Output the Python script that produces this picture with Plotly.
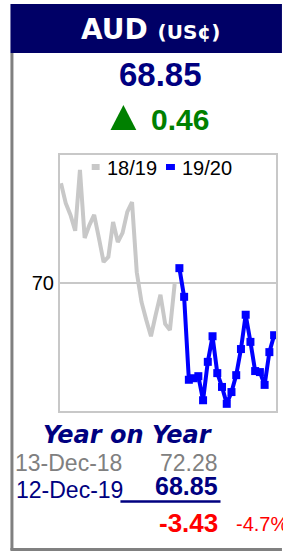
import plotly.graph_objects as go

# ---- data ----
prev_label = "18/19"
curr_label = "19/20"
prev_x = list(range(0, 25))
prev_vals = [71.95, 71.56, 71.33, 71.02, 72.21, 70.88, 71.13, 71.33, 70.88, 70.41,
             70.51, 71.19, 70.80, 70.98, 71.39, 71.58, 70.21, 69.63, 69.28, 68.96,
             69.38, 69.77, 69.20, 69.08, 69.98]
curr_x = list(range(25, 46))
curr_vals = [70.29, 69.73, 68.11, 68.14, 68.18, 67.71, 68.46, 68.96, 68.24, 67.97,
             67.64, 67.87, 68.20, 68.71, 69.38, 68.85, 68.28, 68.26, 68.01, 68.65, 68.98]
y_ticks = [70]

title_main = "AUD"
title_unit = "(US¢)"
latest = "68.85"
change = "0.46"
yoy_title = "Year on Year"
prev_date, prev_value = "13-Dec-18", "72.28"
curr_date, curr_value = "12-Dec-19", "68.85"
diff_value, diff_pct = "-3.43", "-4.7%"

# ---- layout helpers (pixel -> paper) ----
W, H = 283, 551
L, R, T, B = 60, 278, 155, 411


def px(x):
    return (x - L) / (R - L)


def py(y):
    return (B - y) / (B - T)


NAVY = "#000080"
fig = go.Figure()
fig.add_trace(go.Scatter(x=prev_x, y=prev_vals, mode="lines", name=prev_label,
                         line=dict(color="#c8c8c8", width=4), showlegend=False))
fig.add_trace(go.Scatter(x=curr_x, y=curr_vals, mode="lines+markers", name=curr_label,
                         line=dict(color="#0000ff", width=4),
                         marker=dict(symbol="square", size=8, color="#0000ff"),
                         showlegend=False))

shapes = [
    dict(type="rect", xref="paper", yref="paper", x0=px(10), x1=px(284), y0=py(53), y1=py(4),
         fillcolor="#000066", line=dict(width=0), layer="below"),
    dict(type="line", xref="paper", yref="paper", x0=px(11.5), x1=px(11.5), y0=py(53), y1=py(550),
         line=dict(color="#808080", width=3)),
    dict(type="line", xref="paper", yref="paper", x0=px(10), x1=px(284), y0=py(549.5), y1=py(549.5),
         line=dict(color="#808080", width=3)),
    dict(type="line", xref="paper", yref="paper", x0=px(92), x1=px(100), y0=py(167), y1=py(167),
         line=dict(color="#c8c8c8", width=6)),
    dict(type="line", xref="paper", yref="paper", x0=px(167), x1=px(176), y0=py(167), y1=py(167),
         line=dict(color="#0000ff", width=6)),
    dict(type="line", xref="paper", yref="paper", x0=px(121), x1=px(222), y0=py(501.5), y1=py(501.5),
         line=dict(color=NAVY, width=2.5)),
    dict(type="path", xref="paper", yref="paper",
         path=f"M {px(111)} {py(130)} L {px(137)} {py(130)} L {px(124)} {py(105)} Z",
         fillcolor="#008000", line=dict(width=0)),
]


def ann(text, x, y, size, color, xanchor="center", bold=False, italic=False, family="Arial"):
    t = text
    if bold:
        t = f"<b>{t}</b>"
    if italic:
        t = f"<i>{t}</i>"
    return dict(text=t, xref="paper", yref="paper", x=px(x), y=py(y), xanchor=xanchor,
                yanchor="middle", showarrow=False,
                font=dict(size=size, color=color, family=family))


annotations = [
    dict(text=f"<b>{title_main} <span style='font-size:20px'>{title_unit}</span></b>",
         xref="paper", yref="paper", x=px(151), y=py(29), xanchor="center", yanchor="middle",
         showarrow=False, font=dict(size=28, color="white", family="DejaVu Sans")),
    ann(latest, 161.5, 74, 33, NAVY, bold=True),
    ann(change, 181, 119, 30, "#008000", bold=True),
    ann(prev_label, 105, 168, 20, "black", xanchor="left"),
    ann(curr_label, 181, 168, 20, "black", xanchor="left"),
    ann(yoy_title, 129, 435, 24, NAVY, bold=True, italic=True, family="DejaVu Sans"),
    ann(prev_date, 13, 463, 23, "#808080", xanchor="left"),
    ann(prev_value, 221, 463, 23, "#808080", xanchor="right"),
    ann(curr_date, 14, 490, 23, NAVY, xanchor="left"),
    ann(curr_value, 221, 486, 25, NAVY, xanchor="right", bold=True),
    ann(diff_value, 221, 523, 26, "#ff0000", xanchor="right", bold=True),
    ann(diff_pct, 236, 524, 20, "#ff0000", xanchor="left"),
]

fig.update_layout(
    width=W, height=H,
    margin=dict(l=L, r=W - R, t=T, b=H - B, pad=0),
    paper_bgcolor="white", plot_bgcolor="white",
    shapes=shapes, annotations=annotations,
    xaxis=dict(range=[-0.21, 45.4], showgrid=False, zeroline=False, showticklabels=False,
               ticks="", showline=True, mirror=True, linecolor="#c8c8c8", linewidth=2),
    yaxis=dict(range=[67.5, 72.5], tickvals=y_ticks, showgrid=True, gridcolor="#c8c8c8",
               gridwidth=2, zeroline=False, ticks="", showline=True, mirror=True,
               linecolor="#c8c8c8", linewidth=2, tickfont=dict(size=20, color="black",
                                                               family="Arial")),
    showlegend=False,
)

fig.write_html("out.html", config={"displayModeBar": False},
               post_script="document.body.style.margin='0';document.body.style.overflow='hidden';")
